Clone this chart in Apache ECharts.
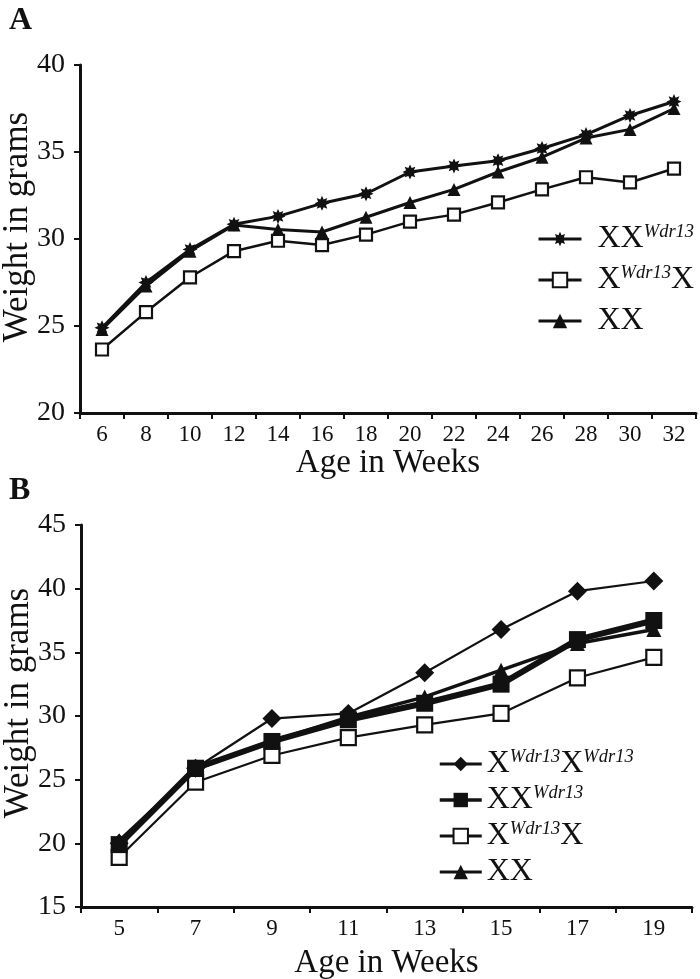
<!DOCTYPE html>
<html>
<head>
<meta charset="utf-8">
<script src="https://cdn.jsdelivr.net/npm/echarts@6/dist/echarts.min.js"></script>
<style>
html,body{margin:0;padding:0;background:#fff;}
#chart{width:700px;height:979px;}
</style>
</head>
<body>
<div id="chart"></div>
<script>
// Panel A
var weeksA = ['6','8','10','12','14','16','18','20','22','24','26','28','30','32'];
var aXXW  = [24.9, 27.5, 29.4, 30.85, 31.3, 32.05, 32.6, 33.85, 34.2, 34.5, 35.2, 36.0, 37.1, 37.9];
var aXWX  = [23.65, 25.8, 27.8, 29.3, 29.9, 29.65, 30.25, 31.0, 31.4, 32.1, 32.85, 33.55, 33.25, 34.05];
var aXX   = [24.8, 27.3, 29.3, 30.8, 30.55, 30.4, 31.25, 32.1, 32.85, 33.85, 34.7, 35.8, 36.3, 37.5];
var yTicksA = [20, 25, 30, 35, 40];

// Panel B
var weeksB = ['5','7','9','11','13','15','17','19'];
var bXWXW = [20.0, 25.9, 29.8, 30.2, 33.4, 36.8, 39.8, 40.6];
var bXXW  = [19.9, 25.9, 28.0, 29.7, 31.0, 32.5, 36.0, 37.5];
var bXWX  = [18.9, 24.8, 26.9, 28.3, 29.3, 30.2, 33.0, 34.6];
var bXX   = [20.2, 25.8, 28.0, 29.9, 31.5, 33.6, 35.7, 36.8];
var yTicksB = [15, 20, 25, 30, 35, 40, 45];

var FONT = '"Liberation Serif", "DejaVu Serif", serif';
var INK = '#111';
var starPath = 'path://M50,0L61,24L85.4,14.6L76,39L100,50L76,61L85.4,85.4L61,76L50,100L39,76L14.6,85.4L24,61L0,50L24,39L14.6,14.6L39,24Z';

var legendRich = {
  m: {fontFamily: FONT, fontSize: 32, lineHeight: 32, color: INK, verticalAlign: 'bottom'},
  s: {fontFamily: FONT, fontSize: 18.5, lineHeight: 19, fontStyle: 'italic', color: INK, verticalAlign: 'top'}
};
var labelMap = {
  'A:XXW': '{m|XX}{s|Wdr13}',
  'A:XWX': '{m|X}{s|Wdr13}{m|X}',
  'A:XX': '{m|XX}',
  'B:XWXW': '{m|X}{s|Wdr13}{m|X}{s|Wdr13}',
  'B:XXW': '{m|XX}{s|Wdr13}',
  'B:XWX': '{m|X}{s|Wdr13}{m|X}',
  'B:XX': '{m|XX}'
};

function xAxisCfg(gi, data, nameGap) {
  return {
    type: 'category', gridIndex: gi, data: data, boundaryGap: true,
    name: 'Age in Weeks', nameLocation: 'middle', nameGap: nameGap,
    nameTextStyle: {fontFamily: FONT, fontSize: 33, color: INK},
    axisLine: {lineStyle: {color: INK, width: 3}},
    axisTick: {show: true, inside: false, length: 6, lineStyle: {color: INK, width: 2}},
    axisLabel: {interval: 0, fontFamily: FONT, fontSize: 23, color: INK, margin: 10},
    splitLine: {show: false}
  };
}
function yAxisCfg(gi, ticks, padShift) {
  return {
    type: 'value', gridIndex: gi, min: ticks[0], max: ticks[ticks.length - 1], interval: 5,
    name: 'Weight in grams', nameLocation: 'middle', nameGap: 45, nameMoveOverlap: false,
    nameTextStyle: {fontFamily: FONT, fontSize: 35, color: INK, padding: [0, 0, 0, padShift]},
    axisLine: {show: true, lineStyle: {color: INK, width: 3}},
    axisTick: {show: true, inside: false, length: 6, lineStyle: {color: INK, width: 2}},
    axisLabel: {fontFamily: FONT, fontSize: 28, color: INK, margin: 15},
    splitLine: {show: false}
  };
}
function lineSeries(name, xi, data, symbol, size, width, filled, z) {
  return {
    type: 'line', name: name, xAxisIndex: xi, yAxisIndex: xi, data: data,
    symbol: symbol, symbolSize: size, showAllSymbol: true, z: z,
    lineStyle: {color: INK, width: width},
    itemStyle: {color: filled ? INK : '#fff', borderColor: INK, borderWidth: filled ? 0 : 2.2},
    emphasis: {disabled: true}, animation: false
  };
}
function legendItem(name, w) {
  return {name: name, lineStyle: {width: w, color: INK}};
}

var chart = echarts.init(document.getElementById('chart'), null, {renderer: 'canvas'});
chart.setOption({
  backgroundColor: '#fff',
  animation: false,
  title: [
    {text: 'A', left: 4, top: 0, textStyle: {fontFamily: FONT, fontSize: 32, fontWeight: 'bold', color: INK}},
    {text: 'B', left: 4, top: 470, textStyle: {fontFamily: FONT, fontSize: 32, fontWeight: 'bold', color: INK}}
  ],
  grid: [
    {left: 80, top: 65, width: 616, height: 348, outerBoundsMode: 'none', containLabel: false},
    {left: 81, top: 525, width: 611, height: 382, outerBoundsMode: 'none', containLabel: false}
  ],
  xAxis: [xAxisCfg(0, weeksA, 30), xAxisCfg(1, weeksB, 40)],
  yAxis: [yAxisCfg(0, yTicksA, 24), yAxisCfg(1, yTicksB, 26)],
  legend: [
    {
      data: [legendItem('A:XXW', 3), legendItem('A:XWX', 3), legendItem('A:XX', 3)],
      orient: 'vertical', left: 537, top: 223, padding: 0,
      itemWidth: 43, itemHeight: 18, itemGap: 9, selectedMode: false,
      formatter: function (n) { return labelMap[n]; },
      textStyle: {rich: legendRich, padding: [0, 0, 0, 11]}
    },
    {
      data: [legendItem('B:XWXW', 3), legendItem('B:XXW', 3.5), legendItem('B:XWX', 3), legendItem('B:XX', 3)],
      orient: 'vertical', left: 438, top: 748, padding: 0,
      itemWidth: 42, itemHeight: 18, itemGap: 4, selectedMode: false,
      formatter: function (n) { return labelMap[n]; },
      textStyle: {rich: legendRich}
    }
  ],
  series: [
    lineSeries('A:XWX', 0, aXWX, 'rect', 12, 2.5, false, 2),
    lineSeries('A:XX', 0, aXX, 'triangle', 13, 3, true, 3),
    lineSeries('A:XXW', 0, aXXW, starPath, 15, 3, true, 4),
    lineSeries('B:XWX', 1, bXWX, 'rect', 15, 2.2, false, 2),
    lineSeries('B:XWXW', 1, bXWXW, 'diamond', 19, 2.2, true, 3),
    lineSeries('B:XX', 1, bXX, 'triangle', 15, 3.5, true, 4),
    lineSeries('B:XXW', 1, bXXW, 'rect', 17, 6, true, 5)
  ]
});
</script>
</body>
</html>
